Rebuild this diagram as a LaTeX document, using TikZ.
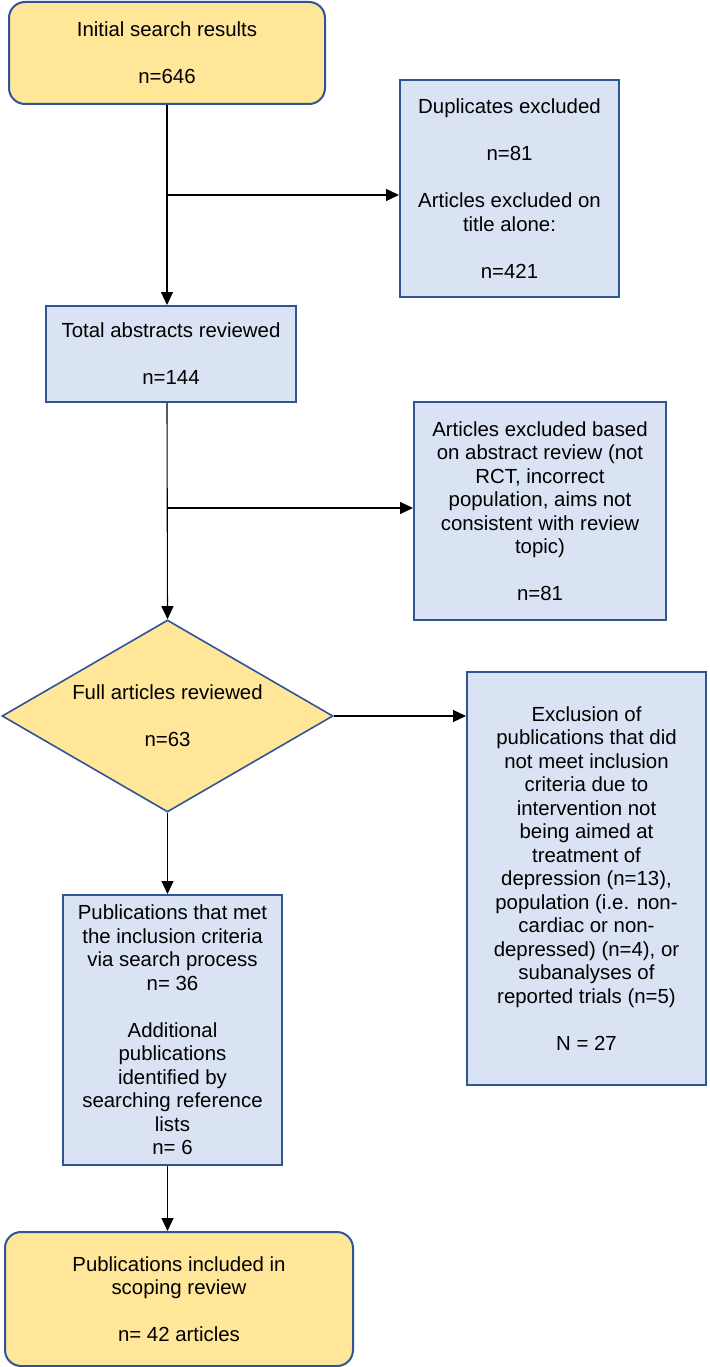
\documentclass[tikz,border=0pt]{standalone}
\usepackage{fontspec}
\setmainfont{Liberation Sans}
\usepackage{tikz}
\usetikzlibrary{shapes.geometric, arrows.meta, positioning}
\definecolor{boxblue}{RGB}{218,227,243}
\definecolor{boxgold}{RGB}{255,230,153}
\definecolor{edgeblue}{RGB}{47,85,151}
\tikzstyle{process} = [rectangle, draw=edgeblue, fill=boxblue, line width=2pt, align=center, inner sep=0pt]
\tikzstyle{terminal} = [rectangle, rounded corners=16pt, draw=edgeblue, fill=boxgold, line width=2pt,
                        align=center, inner sep=0pt]
\tikzstyle{decision} = [diamond, aspect=1.72, draw=edgeblue, fill=boxgold, line width=1.6pt, align=center,
                        inner sep=0pt]
\tikzstyle{flow} = [draw=black, line width=1.1pt, -{Triangle[length=13pt, width=12pt]}]
\newcommand{\boxfont}{\fontsize{20.4}{23.5}\selectfont}

\begin{document}
\begin{tikzpicture}[x=1pt, y=-1pt, font=\boxfont]
					\useasboundingbox (0,0) rectangle (709,1367);

					\node (Initial) [terminal, minimum width=316pt, minimum height=102pt] at (167,53)
						{Initial search results\\[23.5pt] n=646};

					% title screening
					\node (Duplicates) [process, minimum width=219pt, minimum height=217pt] at (509.5,188.5)
						{Duplicates excluded\\[23.5pt] n=81\\[23.5pt] Articles excluded on\\ title alone:\\[23.5pt] n=421};
					\coordinate (DupSplit) at (167,195);
					\draw[flow] (DupSplit) -- (DupSplit -| Duplicates.west);

					\node (Total) [process, minimum width=250pt, minimum height=96pt] at (171,354)
						{Total abstracts reviewed\\[23.5pt] n=144};
					\draw[flow] (Initial) -- (Initial |- Total.north);

					% abstract screening
					\node (Abstracts) [process, minimum width=252pt, minimum height=218pt] at (540,511)
						{Articles excluded based\\ on abstract review (not\\ RCT, incorrect\\ population, aims not\\
						 consistent with review\\ topic)\\[23.5pt] n=81};
					\coordinate (AbsSplit) at (167,508);
					\draw[flow] (AbsSplit) -- (AbsSplit -| Abstracts.west);

					\node (Full) [decision, minimum width=331pt, minimum height=192pt] at (167.5,716)
						{\mbox{}\\[-9.5pt] Full articles reviewed\\[23.5pt] n=63};
					\draw[flow] (Initial |- Total.south) -- (Full.north);

					% full text screening
					\node (Exclusion) [process, minimum width=239pt, minimum height=413pt] at (586.5,878.5)
						{Exclusion of\\ publications that did\\ not meet inclusion\\ criteria due to\\ intervention not\\
						 being aimed at\\ treatment of\\ depression (n=13),\\ population (i.e. non-\\ cardiac or non-\\
						 depressed) (n=4), or\\ subanalyses of\\ reported trials (n=5)\\[23.5pt] N = 27};
					\draw[flow] (Full.east) -- (Full.east -| Exclusion.west);

					\node (Publications) [process, minimum width=219pt, minimum height=270pt] at (172.5,1030)
						{Publications that met\\ the inclusion criteria\\ via search process\\ n= 36\\[23.5pt] Additional\\
						 publications\\ identified by\\ searching reference\\ lists\\ n= 6};
					\draw[flow] (Full.south) -- (Full.south |- Publications.north);

					\node (Included) [terminal, minimum width=348pt, minimum height=134pt] at (179,1299)
						{Publications included in\\ scoping review\\[23.5pt] n= 42 articles};
					\draw[flow] (Full.south |- Publications.south) -- (Full.south |- Included.north);
				\end{tikzpicture}
\end{document}
